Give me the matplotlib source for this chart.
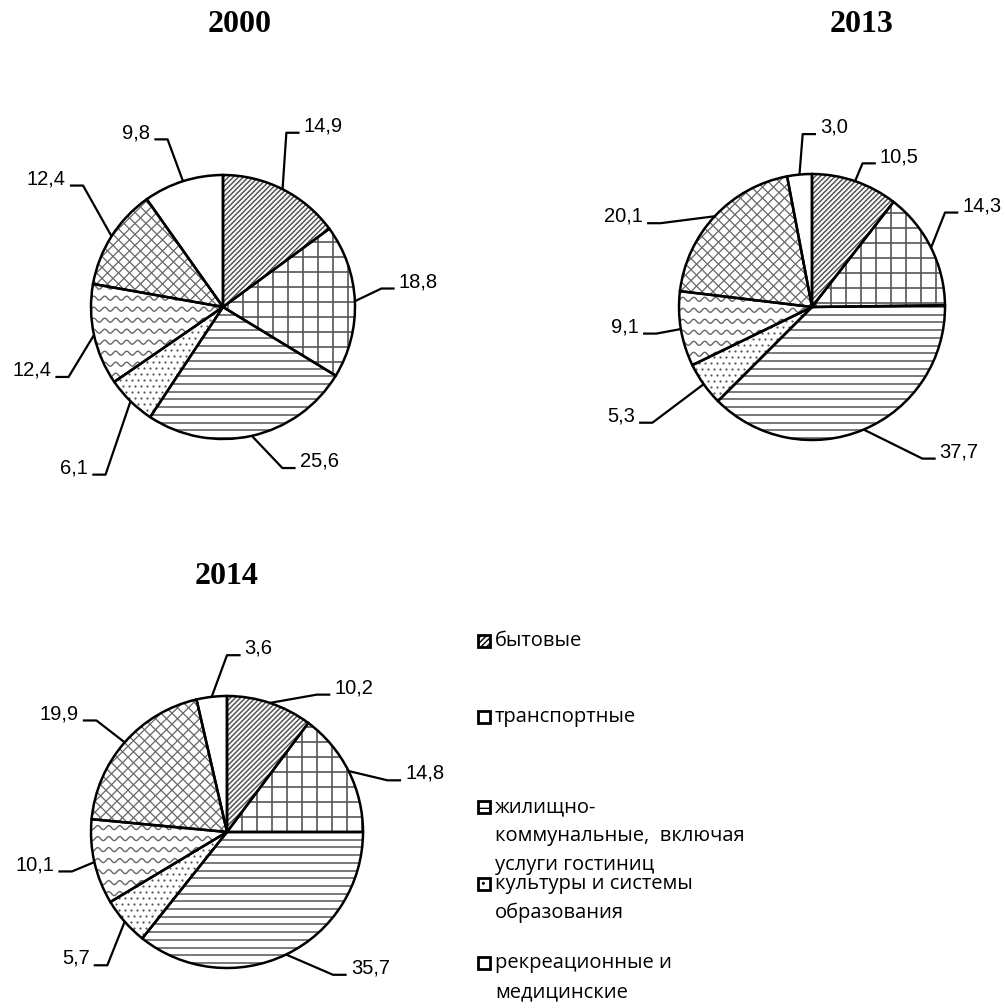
import numpy as np
import matplotlib.pyplot as plt
from matplotlib.patches import Rectangle
from matplotlib.collections import LineCollection

# DATA
years = ['2000', '2013', '2014']
values_2000 = [14.9, 18.8, 25.6, 6.1, 12.4, 12.4, 9.8]
values_2013 = [10.5, 14.3, 37.7, 5.3, 9.1, 20.1, 3.0]
values_2014 = [10.2, 14.8, 35.7, 5.7, 10.1, 19.9, 3.6]
legend_labels = ['бытовые',
                 'транспортные',
                 'жилищно-\nкоммунальные,  включая\nуслуги гостиниц',
                 'культуры и системы\nобразования',
                 'рекреационные и\nмедицинские']

# STYLE / LAYOUT
fills = ['diag', 'grid', 'hlines', 'dots', 'wavy', 'cross', None]
legend_hatch = ['//////', '-|', '-', '..', '~', 'x', None]
W, H = 1005, 1008
# pie centre (px), radius (px), title position (px)
pie_layout = {
    '2000': dict(cx=223, cy=307, r=132, tx=240, ty=25),
    '2013': dict(cx=812, cy=307, r=133, tx=862, ty=25),
    '2014': dict(cx=227, cy=832, r=136, tx=227, ty=577),
}
# elbow of each leader line in radius units, side of label
label_layout = {
    '2000': [(0.48, 1.32, 1), (1.20, 0.14, 1), (0.45, -1.22, 1), (-0.89, -1.27, -1),
             (-1.17, -0.53, -1), (-1.06, 0.92, -1), (-0.42, 1.27, -1)],
    '2013': [(0.38, 1.08, 1), (1.00, 0.71, 1), (0.83, -1.14, 1), (-1.20, -0.87, -1),
             (-1.17, -0.20, -1), (-1.14, 0.63, -1), (-0.07, 1.30, 1)],
    '2014': [(0.66, 1.01, 1), (1.18, 0.38, 1), (0.78, -1.05, 1), (-0.88, -0.98, -1),
             (-1.14, -0.29, -1), (-0.96, 0.82, -1), (0.00, 1.30, 1)],
}
series = {'2000': values_2000, '2013': values_2013, '2014': values_2014}


def fill_pattern(ax, wedge, kind, r):
    """hand-drawn hatch, spacings given in pixels, r = radius in px"""
    px = 1.0 / r
    segs = []
    lw, col = 1.0, '#555555'
    if kind == 'diag':
        s = 5 * px
        for c in np.arange(-2.2, 2.2, s):
            segs.append([(-1.1, -1.1 + c), (1.1, 1.1 + c)])
        lw = 1.1
    elif kind == 'cross':
        s = 11 * px
        for c in np.arange(-2.2, 2.2, s):
            segs.append([(-1.1, -1.1 + c), (1.1, 1.1 + c)])
            segs.append([(-1.1, 1.1 + c), (1.1, -1.1 + c)])
        lw, col = 0.9, '#666666'
    elif kind == 'grid':
        s = 15 * px
        for c in np.arange(-1.1, 1.1, s):
            segs.append([(c, -1.1), (c, 1.1)])
            segs.append([(-1.1, c), (1.1, c)])
        lw = 1.2
    elif kind == 'hlines':
        s = 7.7 * px
        for c in np.arange(0, -1.1, -s):
            segs.append([(-1.1, c), (1.1, c)])
        lw = 1.1
    elif kind == 'wavy':
        xs = np.linspace(-1.1, 1.1, 600)
        for y0 in np.arange(-1.1, 1.1, 11 * px):
            ys = y0 + 2 * px * np.sin(xs * 2 * np.pi / (11 * px))
            segs.append(np.column_stack([xs, ys]))
        lw, col = 1.0, '#666666'
    elif kind == 'dots':
        s = 6 * px
        gx, gy = np.meshgrid(np.arange(-1.1, 1.1, s), np.arange(-1.1, 1.1, s))
        gx = gx + (np.arange(gx.shape[0])[:, None] % 2) * s / 2
        pts = ax.scatter(gx.ravel(), gy.ravel(), s=2.5, color='#555555', linewidths=0, zorder=2)
        pts.set_clip_path(wedge)
        return
    else:
        return
    lc = LineCollection(segs, colors=col, linewidths=lw, zorder=2)
    ax.add_collection(lc)
    lc.set_clip_path(wedge)


fig = plt.figure(figsize=(W / 100, H / 100), dpi=100)
span = 1.75

for year in years:
    p = pie_layout[year]
    r = p['r']
    ax = fig.add_axes([(p['cx'] - span * r) / W, (H - p['cy'] - span * r) / H,
                       2 * span * r / W, 2 * span * r / H])
    vals = series[year]
    wedges, _ = ax.pie(vals, startangle=90, counterclock=False, colors=['white'] * len(vals),
                       wedgeprops={'edgecolor': 'black', 'linewidth': 1.8})
    for w, kind in zip(wedges, fills):
        fill_pattern(ax, w, kind, r)
        w.set_zorder(3)
        w.set_facecolor('none')
    ax.set_xlim(-span, span)
    ax.set_ylim(-span, span)
    ax.set_aspect('auto')
    ax.axis('off')

    for v, w, (ex, ey, side) in zip(vals, wedges, label_layout[year]):
        ang = np.deg2rad((w.theta1 + w.theta2) / 2)
        hx = ex + side * 0.1
        ax.plot([np.cos(ang), ex, hx], [np.sin(ang), ey, ey], color='black', lw=1.6,
                solid_capstyle='butt', zorder=4)
        ax.text(hx + side * 0.03, ey + 0.01, f'{v:.1f}'.replace('.', ','),
                ha='left' if side > 0 else 'right', va='baseline',
                fontsize=14.5, family='Liberation Sans')

    fig.text(p['tx'] / W, 1 - p['ty'] / H, year, ha='center', va='center',
             fontsize=23, fontweight='bold', family='Liberation Serif')

# LEGEND
plt.rcParams['hatch.linewidth'] = 1.0
legend_y = [641, 717, 807, 884, 963]
for lab, y, h in zip(legend_labels, legend_y, legend_hatch):
    fig.add_artist(Rectangle((478 / W, 1 - (y + 6) / H), 12 / W, 12 / H,
                             transform=fig.transFigure, facecolor='white',
                             edgecolor='black', lw=2, hatch=h))
    for j, line in enumerate(lab.split('\n')):
        fig.text(495 / W, 1 - (y + j * 29) / H, line, ha='left', va='center',
                 fontsize=14.5, family='Open Sans')

fig.savefig('out.png', dpi=100, facecolor='white')
